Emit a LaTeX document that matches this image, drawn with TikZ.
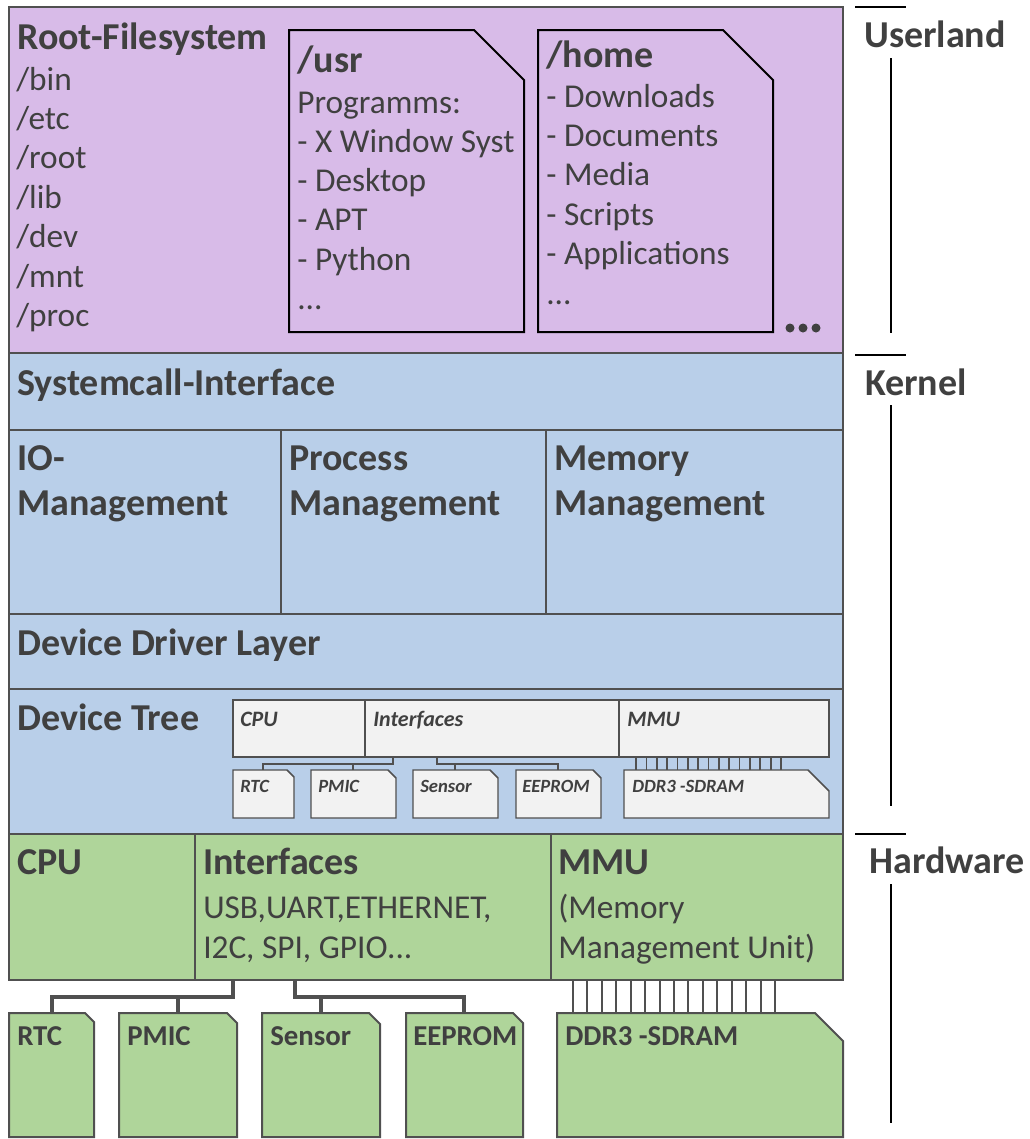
\documentclass[tikz,border=0pt]{standalone}
\usepackage{fontspec}
\setmainfont{Carlito}
\usetikzlibrary{calc}
\definecolor{userfill}{HTML}{D8BBE8}
\definecolor{kernfill}{HTML}{B9CFE9}
\definecolor{hwfill}{HTML}{AFD59A}
\definecolor{dtfill}{HTML}{F2F2F2}
\definecolor{edge}{HTML}{505050}
\definecolor{txt}{HTML}{404040}
\def\chipbox[#1](#2,#3)(#4,#5)(#6){\draw[#1] (#2,#3) -- ({#4-#6},#3) -- (#4,{#3+#6}) -- (#4,#5) -- (#2,#5) -- cycle;}
\newcommand\headfont{\fontsize{28.5}{34}\selectfont\bfseries}
\newcommand\listfont{\fontsize{25}{30}\selectfont}
\newcommand\chipfont{\fontsize{21.6}{26}\selectfont\bfseries}
\newcommand\dtfont{\fontsize{16.5}{20}\selectfont\bfseries\itshape}
\newcommand\dtchipfont{\fontsize{14}{17}\selectfont\bfseries\itshape}
\tikzset{
  layer/.style={draw=edge, line width=1.6pt},
  filebox/.style={draw=black, line width=1.5pt},
  hwchip/.style={draw=edge, fill=hwfill, line width=1.5pt},
  dtbox/.style={draw=edge, fill=dtfill, line width=1.1pt},
  wire/.style={draw=edge, line width=2.4pt},
  dtwire/.style={draw=edge, line width=1.3pt},
  head/.style={anchor=base west, inner sep=0pt, text=txt, font=\headfont},
  item/.style={anchor=base west, inner sep=0pt, text=txt, font=\listfont},
  chiplabel/.style={anchor=base west, inner sep=0pt, text=txt, font=\chipfont},
  dtlabel/.style={anchor=base west, inner sep=0pt, text=txt, font=\dtfont},
  dtchiplabel/.style={anchor=base west, inner sep=0pt, text=txt, font=\dtchipfont},
  bar/.style={line width=2.2pt},
  span/.style={line width=0.8pt}
}
\begin{document}
\begin{tikzpicture}[x=0.75pt,y=-0.75pt]
\useasboundingbox (0,0) rectangle (1030,1139);

%%%%% USERLAND %%%%%
\draw[layer, fill=userfill] (9,7) rectangle (843,353);
\node[head] (rootfs) at (17,49) {Root-Filesystem};
\foreach \d [count=\k from 0] in {/bin,/etc,/root,/lib,/dev,/mnt,/proc}
  \node[item] (dir\k) at (16,{90+39.4*\k}) {\d};

\chipbox[filebox](289,30)(524,332)(50)
\node[head] (usr) at (297,72) {/usr};
\node[item] (usr0) at (297,113) {Programms:};
\node[item] (usr1) at (297,152.3) {- X Window Syst};
\node[item] (usr2) at (297,191.6) {- Desktop};
\node[item] (usr3) at (297,230.9) {- APT};
\node[item] (usr4) at (297,270.2) {- Python};
\node[item] (usr5) at (297,309.5) {...};

\chipbox[filebox](538,30)(773,332)(50)
\node[head] (home) at (546,67) {/home};
\node[item] (home0) at (546,107) {- Downloads};
\node[item] (home1) at (546,146.4) {- Documents};
\node[item] (home2) at (546,185.8) {- Media};
\node[item] (home3) at (546,225.2) {- Scripts};
\node[item] (home4) at (546,264.6) {- Applications};
\node[item] (home5) at (546,304) {...};

\fill[txt] (790,328) circle (4.5) (803,328) circle (4.5) (816,328) circle (4.5);

%%%%% KERNEL %%%%%
\draw[layer, fill=kernfill] (9,353) rectangle (843,430);
\draw[layer, fill=kernfill] (9,430) rectangle (281,614);
\draw[layer, fill=kernfill] (281,430) rectangle (546,614);
\draw[layer, fill=kernfill] (546,430) rectangle (843,614);
\draw[layer, fill=kernfill] (9,614) rectangle (843,689);
\draw[layer, fill=kernfill] (9,689) rectangle (843,834);

\node[head] (syscall) at (17,395) {Systemcall-Interface};
\node[head] (io1) at (17,470) {IO-};
\node[head] (io2) at (17,515) {Management};
\node[head] (proc1) at (289,470) {Process};
\node[head] (proc2) at (289,515) {Management};
\node[head] (mem1) at (554,470) {Memory};
\node[head] (mem2) at (554,515) {Management};
\node[head] (driver) at (17,655) {Device Driver Layer};
\node[head] (dtree) at (17,730) {Device Tree};

% device tree
\draw[dtbox] (233,700) rectangle (365,757);
\draw[dtbox] (365,700) rectangle (619,757);
\draw[dtbox] (619,700) rectangle (829,757);
\node[dtlabel] (dtcpu) at (240,726) {CPU};
\node[dtlabel] (dtif) at (373,726) {Interfaces};
\node[dtlabel] (dtmmu) at (627,726) {MMU};

\chipbox[dtbox](233,770)(294,818)(7)
\chipbox[dtbox](311,770)(396,818)(8)
\chipbox[dtbox](413,770)(498,818)(8)
\chipbox[dtbox](516,770)(601,818)(8)
\chipbox[dtbox](624,770)(829,818)(21)
\node[dtchiplabel] (dtrtc) at (240,792) {RTC};
\node[dtchiplabel] (dtpmic) at (318,792) {PMIC};
\node[dtchiplabel] (dtsens) at (420,792) {Sensor};
\node[dtchiplabel] (dteep) at (522,792) {EEPROM};
\node[dtchiplabel] (dtddr) at (632,792) {DDR3 -SDRAM};

\coordinate (dtifA) at (393,757);
\coordinate (dtjA) at (393,764);
\coordinate (dtifB) at (437,757);
\coordinate (dtjB) at (437,764);
\draw[dtwire] (dtifA) -- (dtjA) -| (263,770);
\draw[dtwire] (353,770) -- (353,764);
\draw[dtwire] (dtifB) -- (dtjB) -| (558,770);
\draw[dtwire] (455,770) -- (455,764);
\foreach \i in {0,...,14}
  \draw[dtwire] ({636+\i*10.36},757) -- ++(0,13);

%%%%% HARDWARE %%%%%
\draw[layer, fill=hwfill] (9,834) rectangle (195,980);
\draw[layer, fill=hwfill] (195,834) rectangle (551,980);
\draw[layer, fill=hwfill] (551,834) rectangle (843,980);
\node[head] (cpu) at (17,874) {CPU};
\node[head] (ifaces) at (203,874) {Interfaces};
\node[item] (if1) at (203,918) {USB,UART,ETHERNET,};
\node[item] (if2) at (203,958) {I2C, SPI, GPIO...};
\node[head] (mmu) at (558,874) {MMU};
\node[item] (mmu1) at (558,918) {(Memory};
\node[item] (mmu2) at (558,958) {Management Unit)};

\chipbox[hwchip](9,1013)(94,1137)(9)
\chipbox[hwchip](119,1013)(237,1137)(10)
\chipbox[hwchip](262,1013)(380,1137)(11)
\chipbox[hwchip](406,1013)(523,1137)(10)
\chipbox[hwchip](557,1013)(843,1137)(28)
\node[chiplabel] (rtc) at (17,1045) {RTC};
\node[chiplabel] (pmic) at (127,1045) {PMIC};
\node[chiplabel] (sensor) at (270,1045) {Sensor};
\node[chiplabel] (eeprom) at (413,1045) {EEPROM};
\node[chiplabel] (ddr) at (565,1045) {DDR3 -SDRAM};

\coordinate (ifA) at (233,980);
\coordinate (jA) at (233,997);
\coordinate (ifB) at (295,980);
\coordinate (jB) at (295,997);
\draw[wire] (ifA) -- (jA) -| (52,1013);
\draw[wire] (178,1013) -- (178,997);
\draw[wire] (ifB) -- (jB) -| (464,1013);
\draw[wire] (321,1013) -- (321,997);
\foreach \i in {0,...,14}
  \draw[draw=edge, line width=1.5pt] ({573+\i*14.43},980) -- ++(0,33);

%%%%% RIGHT SIDE %%%%%
\node[head] (userland) at (864,47) {Userland};
\node[head] (kernel) at (865,395) {Kernel};
\node[head] (hardware) at (869,873) {Hardware};
\draw[bar] (855,7) -- (906,7);
\draw[bar] (855,355) -- (906,355);
\draw[bar] (855,834) -- (906,834);
\draw[span] (891,58) -- (891,333);
\draw[span] (891,405) -- (891,806);
\draw[span] (891,884) -- (891,1123);

\end{tikzpicture}
\end{document}
